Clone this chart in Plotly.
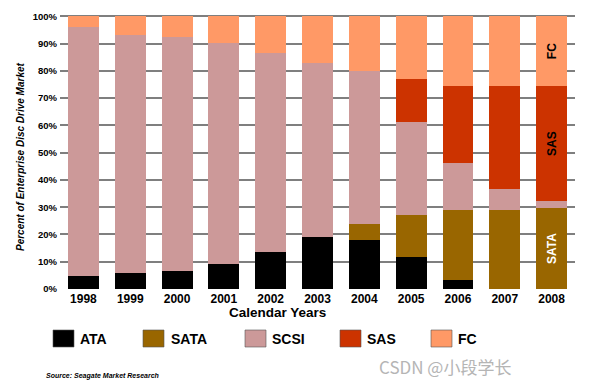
import plotly.graph_objects as go

years = ["1998", "1999", "2000", "2001", "2002", "2003", "2004", "2005", "2006", "2007", "2008"]
ata  = [4.7, 5.7, 6.7, 9.0, 13.4, 19.1, 18.1, 11.6, 3.3, 0.0, 0.0]
sata = [0.0, 0.0, 0.0, 0.0, 0.0, 0.0, 5.9, 15.7, 25.5, 28.8, 29.8]
scsi = [91.5, 87.3, 85.9, 81.4, 73.2, 63.7, 55.9, 33.8, 17.4, 7.8, 2.3]
sas  = [0.0, 0.0, 0.0, 0.0, 0.0, 0.0, 0.0, 15.8, 28.4, 38.0, 42.5]
fc   = [3.8, 7.0, 7.4, 9.6, 13.4, 17.2, 20.1, 23.1, 25.4, 25.4, 25.4]
yticks = [0, 10, 20, 30, 40, 50, 60, 70, 80, 90, 100]
ytick_labels = [f"{v}%" for v in yticks]

series = [
    ("ATA", ata, "#000000", None, "white"),
    ("SATA", sata, "#996600", "SATA", "white"),
    ("SCSI", scsi, "#CC9999", None, "black"),
    ("SAS", sas, "#CC3300", "SAS", "black"),
    ("FC", fc, "#FF9966", "FC", "black"),
]

FONT = "Arial, Liberation Sans, sans-serif"
W, H = 594, 385
L, R, T, B = 60, 19, 15, 96
PW, PH = W - L - R, H - T - B

def px(x):
    return (x - L) / PW

def py(y):
    return (H - B - y) / PH

fig = go.Figure()
for name, vals, color, label, tcol in series:
    text = [""] * (len(years) - 1) + [label or ""]
    fig.add_trace(go.Bar(
        x=years, y=vals, name=name,
        marker=dict(color=color, line=dict(width=0)),
        text=text, textposition="inside", insidetextanchor="middle",
        textangle=-90,
        textfont=dict(family=FONT, size=12, color=tcol, weight="bold"),
        showlegend=False, hoverinfo="x+y+name",
    ))

fig.update_layout(
    barmode="stack", bargap=0.34,
    width=W, height=H,
    margin=dict(l=L, r=R, t=T, b=B, autoexpand=False),
    paper_bgcolor="white", plot_bgcolor="white",
    font=dict(family=FONT, color="black"),
    uniformtext=dict(minsize=8, mode="show"),
)
fig.update_xaxes(
    type="category", range=[-0.5, 10.5], showgrid=False, showline=False,
    tickfont=dict(size=12, weight="bold"), ticks="", ticklabelstandoff=1,
)
fig.update_yaxes(
    range=[0, 100.5], tickvals=yticks, ticktext=ytick_labels,
    showgrid=True, gridcolor="#7f7f7f", gridwidth=2,
    zeroline=False, showline=False, ticks="",
    tickfont=dict(size=9.5, weight="bold"), ticklabelstandoff=2,
)

def note(text, x, y, size, anchor="center", angle=0, **font):
    fig.add_annotation(text=text, xref="paper", yref="paper",
                       x=px(x), y=py(y), xanchor=anchor, yanchor="middle",
                       showarrow=False, textangle=angle,
                       font=dict(size=size, **font))

# axis titles
note("Calendar Years", 277, 313, 13.5, weight="bold")
note("Percent of Enterprise Disc Drive Market", 21, 157, 10, angle=-90,
     weight="bold", style="italic")

# custom legend
box_x = [53, 143, 245, 340, 431]
text_x = [78, 169, 270, 365, 456]
for (name, vals, color, label, tcol), bx, tx in zip(series, box_x, text_x):
    fig.add_shape(type="rect", xref="paper", yref="paper",
                  x0=px(bx), x1=px(bx + 21), y0=py(347), y1=py(330),
                  fillcolor=color, line=dict(color="#555555", width=0.6))
    note(name, tx, 339, 14, anchor="left", weight="bold")

note("Source: Seagate Market Research", 44, 376, 7, anchor="left",
     weight="bold", style="italic")
note("CSDN @小段学长", 377, 366, 17, anchor="left", color="#b5b5b5",
     family="Noto Sans CJK SC, Noto Sans, sans-serif")

fig.write_html("out.html", config={"displayModeBar": False},
               post_script="document.body.style.margin='0';")
